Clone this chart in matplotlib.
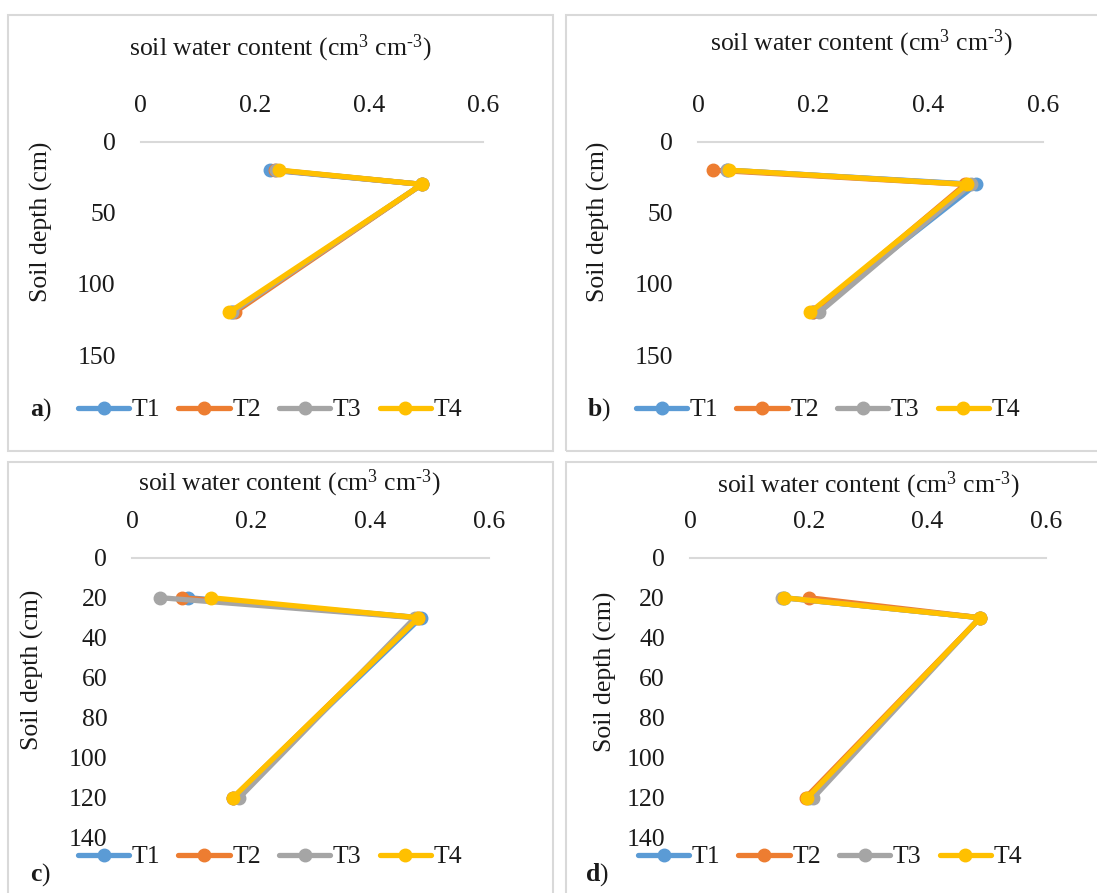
import matplotlib
matplotlib.use("Agg")
import matplotlib.pyplot as plt
from matplotlib.patches import Rectangle

plt.rcParams['font.family'] = ['Liberation Serif', 'DejaVu Serif']
plt.rcParams['mathtext.fontset'] = 'custom'
plt.rcParams['mathtext.rm'] = 'Liberation Serif'
plt.rcParams['mathtext.it'] = 'Liberation Serif:italic'
plt.rcParams['mathtext.bf'] = 'Liberation Serif:bold'
plt.rcParams['mathtext.default'] = 'regular'

# 데이터
depth = [20, 30, 120]
treatments = ["T1", "T2", "T3", "T4"]
colors = ["#5B9BD5", "#ED7D31", "#A5A5A5", "#FFC000"]

swc_a = [[0.227, 0.493, 0.160], [0.235, 0.493, 0.165], [0.238, 0.493, 0.160], [0.243, 0.493, 0.155]]
swc_b = [[0.050, 0.484, 0.200], [0.026, 0.465, 0.200], [0.050, 0.475, 0.211], [0.053, 0.468, 0.195]]
swc_c = [[0.094, 0.485, 0.170], [0.083, 0.480, 0.170], [0.047, 0.475, 0.180], [0.132, 0.481, 0.169]]
swc_d = [[0.158, 0.489, 0.200], [0.200, 0.489, 0.195], [0.155, 0.489, 0.208], [0.158, 0.489, 0.198]]

x_ticks = [0, 0.2, 0.4, 0.6]
x_ticklabels = ["0", "0.2", "0.4", "0.6"]
y_ticks_top = [0, 50, 100, 150]
y_ticks_bottom = [0, 20, 40, 60, 80, 100, 120, 140]

W, H = 1097, 893
FS = 18.5
TXT = '#1a1a1a'


def fx(px):
    return px / W


def fy(py):
    return 1 - py / H


fig = plt.figure(figsize=(W / 100, H / 100), dpi=100)

# 패널 테두리
for (x0, y0, x1, y1) in [(8, 15, 553, 451), (566, 15, 1110, 451),
                         (8, 462, 553, 900), (566, 462, 1110, 900)]:
    fig.patches.append(Rectangle((fx(x0), fy(y1)), fx(x1 - x0), (y1 - y0) / H,
                                 transform=fig.transFigure, fill=False,
                                 edgecolor='#D9D9D9', linewidth=1.5))

panels = [
    # data, axes box (px), yticks, title pos, ylabel pos, legend pos, letter pos, letter
    (swc_a, (140.7, 141.7, 483, 355), y_ticks_top, (280, 48), (41, 222), (270, 410), (41, 410), "a"),
    (swc_b, (698.3, 141.7, 1042.7, 355), y_ticks_top, (861, 43), (598, 222), (828, 410), (599, 410), "b"),
    (swc_c, (132.3, 557.7, 489.3, 837.7), y_ticks_bottom, (289, 483), (32, 670), (270, 857), (40, 875), "c"),
    (swc_d, (690, 557.7, 1046, 837.7), y_ticks_bottom, (868, 485), (605, 672), (830, 857), (597, 875), "d"),
]

for data, box, yticks, tpos, ylpos, lpos, letpos, letter in panels:
    x0, y0, x1, y1 = box
    ax = fig.add_axes([fx(x0), fy(y1), (x1 - x0) / W, (y1 - y0) / H])

    for vals, name, c in zip(data, treatments, colors):
        ax.plot(vals, depth, color=c, linewidth=3.8, marker='o', markersize=9,
                label=name, solid_capstyle='round')

    ax.set_xlim(0, 0.6)
    ax.set_ylim(yticks[-1], 0)
    ax.set_xticks(x_ticks)
    ax.set_xticklabels(x_ticklabels)
    ax.set_yticks(yticks)
    ax.xaxis.tick_top()
    ax.tick_params(axis='both', length=0, labelsize=FS, colors=TXT)
    ax.tick_params(axis='x', pad=18)
    ax.tick_params(axis='y', pad=18)
    for side in ['left', 'right', 'bottom']:
        ax.spines[side].set_visible(False)
    ax.spines['top'].set_color('#D9D9D9')
    ax.spines['top'].set_linewidth(1.5)
    ax.set_facecolor('none')

    fig.text(fx(tpos[0]), fy(tpos[1]), "soil water content (cm$^{3}$ cm$^{\u2010 3}$)",
             ha='center', va='center', fontsize=FS, color=TXT)
    fig.text(fx(ylpos[0]), fy(ylpos[1]), "Soil depth (cm)", rotation=90,
             ha='center', va='center', fontsize=FS, color=TXT)
    fig.text(fx(letpos[0]), fy(letpos[1]), "$\\mathbf{" + letter + "}$)",
             ha='center', va='center', fontsize=FS, color=TXT)

    ax.legend(loc='center', bbox_to_anchor=(fx(lpos[0]), fy(lpos[1])),
              bbox_transform=fig.transFigure, ncol=4, frameon=False,
              fontsize=FS, handlelength=2.0, handletextpad=0.1,
              columnspacing=0.7, borderpad=0, labelcolor=TXT)

fig.savefig("out.png", dpi=100, facecolor='white')
